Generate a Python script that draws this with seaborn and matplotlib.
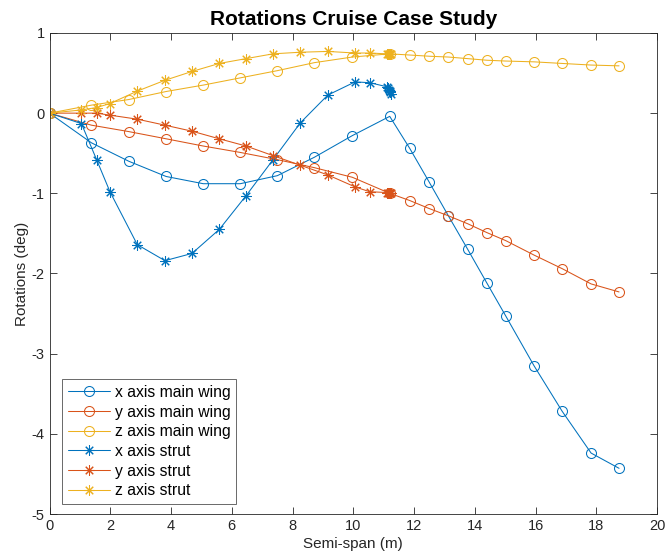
import numpy as np
import pandas as pd
import matplotlib
matplotlib.use("Agg")
import matplotlib.pyplot as plt
import seaborn as sns

# ---- data ----
wing_x = [0, 1.38, 2.61, 3.84, 5.06, 6.28, 7.50, 8.72, 9.97, 11.20, 11.86, 12.50,
          13.13, 13.77, 14.40, 15.02, 15.95, 16.88, 17.83, 18.75]
wing_rx = [0, -0.37, -0.60, -0.79, -0.88, -0.88, -0.78, -0.55, -0.28, -0.04, -0.44,
           -0.86, -1.28, -1.70, -2.12, -2.53, -3.15, -3.72, -4.24, -4.43]
wing_ry = [0, -0.15, -0.23, -0.32, -0.41, -0.49, -0.58, -0.68, -0.80, -1.00, -1.09,
           -1.19, -1.28, -1.38, -1.49, -1.59, -1.77, -1.94, -2.13, -2.23]
wing_rz = [0, 0.10, 0.17, 0.27, 0.35, 0.44, 0.53, 0.63, 0.70, 0.74, 0.725, 0.71,
           0.70, 0.68, 0.66, 0.65, 0.64, 0.62, 0.60, 0.59]

strut_x = [0, 1.05, 1.55, 1.99, 2.89, 3.80, 4.69, 5.59, 6.47, 7.36, 8.26, 9.16,
           10.06, 10.54, 11.10, 11.15, 11.18, 11.20, 11.22, 11.23]
strut_rx = [0, -0.13, -0.58, -0.98, -1.64, -1.84, -1.75, -1.45, -1.03, -0.58, -0.12,
            0.225, 0.39, 0.38, 0.33, 0.31, 0.29, 0.28, 0.26, 0.24]
strut_ry = [0, 0.0, 0.0, -0.025, -0.075, -0.15, -0.225, -0.32, -0.41, -0.53, -0.65,
            -0.77, -0.92, -0.98, -0.99, -1.0, -1.0, -1.0, -1.0, -1.0]
strut_rz = [0, 0.04, 0.07, 0.12, 0.275, 0.41, 0.52, 0.62, 0.68, 0.74, 0.76, 0.77,
            0.75, 0.75, 0.74, 0.74, 0.74, 0.74, 0.74, 0.74]

labels = ["x axis main wing", "y axis main wing", "z axis main wing",
          "x axis strut", "y axis strut", "z axis strut"]
x_ticks = list(range(0, 21, 2))
y_ticks = [1, 0, -1, -2, -3, -4, -5]

colors = ["#0072BD", "#D95319", "#EDB120"]

sns.set_style("white")
plt.rcParams['font.family'] = ['Liberation Sans', 'DejaVu Sans']
plt.rcParams['axes.unicode_minus'] = False

fig = plt.figure(figsize=(6.7, 5.59), dpi=100)
ax = fig.add_axes([0.0739, 0.0805, 0.9067, 0.8605])

series = [
    (wing_x, wing_rx, labels[0], colors[0], "o"),
    (wing_x, wing_ry, labels[1], colors[1], "o"),
    (wing_x, wing_rz, labels[2], colors[2], "o"),
    (strut_x, strut_rx, labels[3], colors[0], (8, 2, 0)),
    (strut_x, strut_ry, labels[4], colors[1], (8, 2, 0)),
    (strut_x, strut_rz, labels[5], colors[2], (8, 2, 0)),
]

for xs, ys, lab, col, mk in series:
    df = pd.DataFrame({"x": xs, "y": ys})
    if mk == "o":
        kw = dict(markerfacecolor="none", markeredgecolor=col, markersize=7.2,
                  markeredgewidth=0.75)
    else:
        kw = dict(markeredgecolor=col, markersize=7.5, markeredgewidth=0.75)
    sns.lineplot(data=df, x="x", y="y", ax=ax, color=col, marker=mk, sort=False,
                 estimator=None, linewidth=0.75, label=lab, **kw)

ax.set_xlim(0, 20)
ax.set_ylim(-5, 1)
ax.set_xticks(x_ticks)
ax.set_yticks(y_ticks)
ax.tick_params(direction="in", length=5, width=0.6, colors="#262626",
               labelsize=10.5, top=True, right=True, bottom=True, left=True,
               labelcolor="#262626")
for s in ax.spines.values():
    s.set_visible(True)
    s.set_color("#262626")
    s.set_linewidth(0.6)

ax.set_xlabel("Semi-span (m)", fontsize=11, color="#262626", labelpad=3)
ax.set_ylabel("Rotations (deg)", fontsize=11, color="#262626", labelpad=2)
ax.set_title("Rotations Cruise Case Study", fontsize=15, fontweight="bold",
             color="black", pad=6)

leg = ax.legend(loc="lower left", bbox_to_anchor=(0.0206, 0.021), fontsize=11.3,
                frameon=True, fancybox=False, borderpad=0.35, labelspacing=0.3,
                handlelength=2.7, handletextpad=0.3, borderaxespad=0)
leg.get_frame().set_edgecolor("#262626")
leg.get_frame().set_linewidth(0.6)
for t in leg.get_texts():
    t.set_color("black")

fig.savefig("out.png", dpi=100)
